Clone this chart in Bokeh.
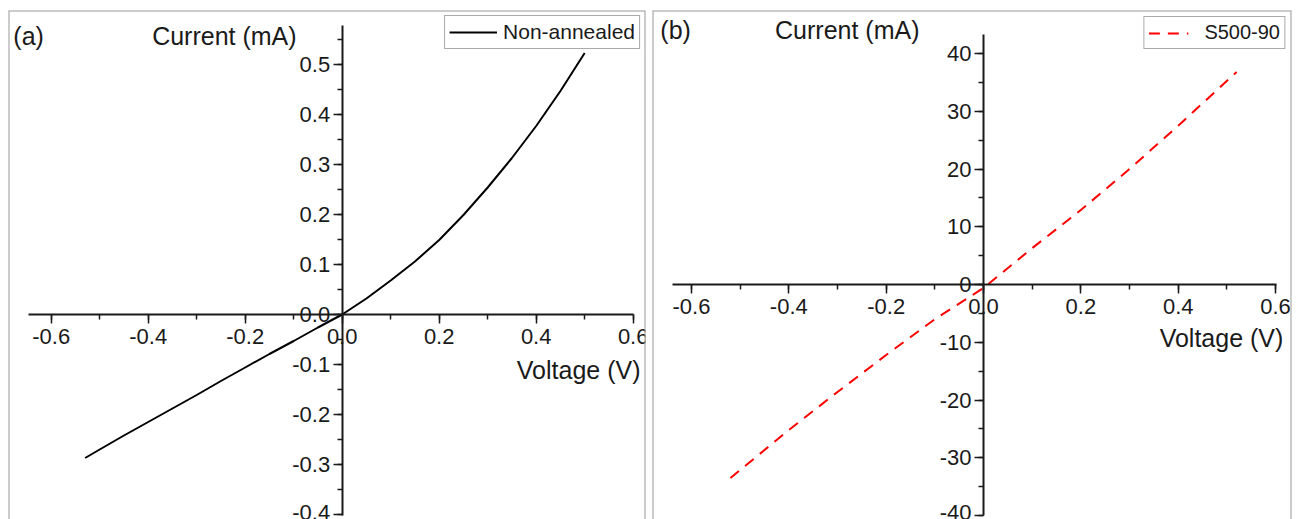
from bokeh.plotting import figure
from bokeh.models import (LinearAxis, SingleIntervalTicker, NumeralTickFormatter,
                          Label, Range1d, Span)
from bokeh.layouts import row
from bokeh.embed import file_html
from bokeh.resources import INLINE

FONT = "Liberation Sans"

# ---- data ----
voltage_a = [-0.53, -0.50, -0.45, -0.40, -0.35, -0.30, -0.25, -0.20, -0.15, -0.10, -0.05,
             0.00, 0.05, 0.10, 0.15, 0.20, 0.25, 0.30, 0.35, 0.40, 0.45, 0.50]
current_a = [-0.287, -0.270, -0.242, -0.215, -0.188, -0.161, -0.133, -0.106, -0.079, -0.053, -0.026,
             0.000, 0.032, 0.068, 0.106, 0.149, 0.199, 0.254, 0.313, 0.377, 0.447, 0.523]

voltage_b = [-0.52, -0.40, -0.30, -0.20, -0.10, 0.00, 0.10, 0.20, 0.30, 0.40, 0.52]
current_b = [-33.5, -25.2, -18.6, -12.2, -6.0, -0.6, 6.3, 12.9, 20.0, 27.5, 36.8]

series_a = "Non-annealed"
series_b = "S500-90"
panel_labels = ["(a)", "(b)"]
x_title = "Voltage (V)"
y_title = "Current (mA)"


def make_panel(width, min_left, min_right, x_range, y_range, x_bounds, y_bounds,
               y_interval, y_format):
    p = figure(width=width, height=519, output_backend="svg", toolbar_location=None,
               x_range=Range1d(*x_range), y_range=Range1d(*y_range),
               x_axis_location=None, y_axis_location=None,
               min_border_left=min_left, min_border_right=min_right,
               min_border_top=10, min_border_bottom=0)
    p.grid.visible = False
    p.outline_line_color = None
    p.background_fill_color = "white"
    p.border_fill_color = "white"
    # panel frame: left, right and top edges (bottom edge lies outside the picture)
    for loc, dim in ((x_range[0], "height"), (x_range[1], "height"), (y_range[1], "width")):
        p.add_layout(Span(location=loc, dimension=dim, line_color="#9a9a9a", line_width=2))

    xa = LinearAxis(fixed_location=0, bounds=x_bounds,
                    ticker=SingleIntervalTicker(interval=0.2, num_minor_ticks=2),
                    formatter=NumeralTickFormatter(format="0.0"))
    ya = LinearAxis(fixed_location=0, bounds=y_bounds,
                    ticker=SingleIntervalTicker(interval=y_interval, num_minor_ticks=2),
                    formatter=NumeralTickFormatter(format=y_format))
    for ax in (xa, ya):
        ax.axis_line_width = 2
        ax.axis_line_color = "#1a1a1a"
        ax.major_tick_line_color = "#1a1a1a"
        ax.minor_tick_line_color = "#1a1a1a"
        ax.major_tick_line_width = 1.5
        ax.minor_tick_line_width = 1.5
        ax.major_tick_in = 0
        ax.major_tick_out = 9
        ax.minor_tick_in = 0
        ax.minor_tick_out = 5
        ax.major_label_text_font = FONT
        ax.major_label_text_font_size = "22px"
        ax.major_label_text_color = "#1a1a1a"
    xa.major_label_standoff = 5
    ya.major_label_standoff = 3
    p.add_layout(xa, "below")
    p.add_layout(ya, "left")
    return p


def add_text(p, x, y, text, align):
    p.add_layout(Label(x=x, y=y, text=text, text_font=FONT, text_font_size="25px",
                       text_color="#1a1a1a", text_align=align, text_baseline="alphabetic"))


def style_legend(p, margin, glyph_width, standoff, size):
    p.legend.location = "top_right"
    p.legend.margin = margin
    p.legend.padding = 4
    p.legend.glyph_width = glyph_width
    p.legend.label_standoff = standoff
    p.legend.label_text_font = FONT
    p.legend.label_text_font_size = size
    p.legend.label_text_color = "#1a1a1a"
    p.legend.border_line_color = "#555555"
    p.legend.border_line_width = 1
    p.legend.background_fill_alpha = 1


# ---- panel (a) ----
pa = make_panel(649, 8, 4, (-0.688, 0.6254), (-0.41, 0.608),
                (-0.647, 0.601), (-0.401, 0.578), 0.1, "0.0")
pa.line(voltage_a, current_a, line_color="black", line_width=2, legend_label=series_a)
add_text(pa, -0.678, 0.558, panel_labels[0], "left")
add_text(pa, -0.094, 0.558, y_title, "right")
add_text(pa, 0.615, -0.111, x_title, "right")
style_legend(pa, 5, 48, 6, "21px")

# ---- panel (b) ----
pb = make_panel(655, 3, 13, (-0.6801, 0.6328), (-40.69, 47.45),
                (-0.64, 0.601), (-40.01, 43.3), 10, "0")
pb.line(voltage_b, current_b, line_color="#ff0000", line_width=2, line_dash="11 8",
        legend_label=series_b)
add_text(pb, -0.664, 44.0, panel_labels[1], "left")
add_text(pb, -0.1315, 44.0, y_title, "right")
add_text(pb, 0.616, -9.3, x_title, "right")
style_legend(pb, 6, 40, 16, "20px")

layout = row(pa, pb)
open("out.html", "w").write(file_html(layout, INLINE))
